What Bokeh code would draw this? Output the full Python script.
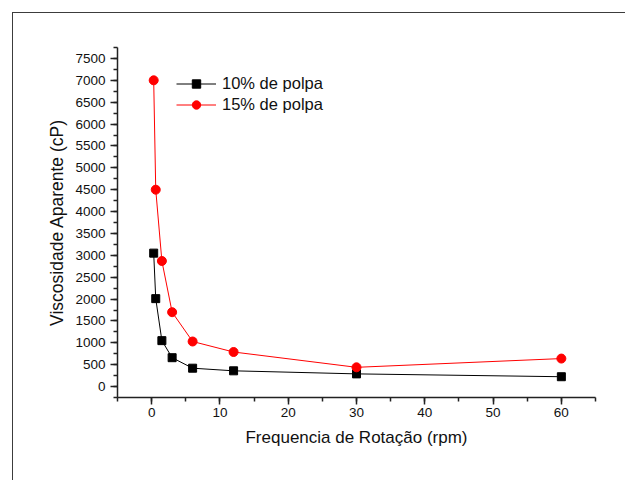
from bokeh.plotting import figure
from bokeh.models import SingleIntervalTicker, Range1d
from bokeh.embed import file_html
from bokeh.resources import INLINE

rpm = [0.3, 0.6, 1.5, 3, 6, 12, 30, 60]
visc_10 = [3050, 2010, 1050, 660, 420, 360, 290, 225]
visc_15 = [7000, 4500, 2870, 1700, 1030, 790, 440, 640]
label_10 = "10% de polpa"
label_15 = "15% de polpa"
x_label = "Frequencia de Rotação (rpm)"
y_label = "Viscosidade Aparente (cP)"

FONT = "Liberation Sans"

p = figure(width=613, height=468, output_backend="svg", toolbar_location=None,
           x_range=Range1d(-5, 65), y_range=Range1d(-250, 7750),
           min_border_left=104, min_border_right=31, min_border_top=34, min_border_bottom=84)
p.margin = (12, 0, 0, 12)
p.styles = {"border-left": "1.5px solid #3c3c3c", "border-top": "1.5px solid #3c3c3c"}
p.outline_line_color = None
p.grid.visible = False
p.background_fill_color = "white"
p.border_fill_color = "white"

p.line(rpm, visc_10, line_color="black", line_width=1, legend_label=label_10)
p.scatter(rpm, visc_10, marker="square", size=8, fill_color="black", line_color="black", legend_label=label_10)
p.line(rpm, visc_15, line_color="#ff0000", line_width=1, legend_label=label_15)
p.scatter(rpm, visc_15, marker="circle", size=9, fill_color="#ff0000", line_color="#ff0000", legend_label=label_15)

p.xaxis.ticker = SingleIntervalTicker(interval=10, num_minor_ticks=2)
p.yaxis.ticker = SingleIntervalTicker(interval=500, num_minor_ticks=2)
for ax in (p.xaxis, p.yaxis):
    ax.axis_line_color = "#222222"
    ax.axis_line_width = 1.5
    ax.major_tick_line_color = "#222222"
    ax.minor_tick_line_color = "#222222"
    ax.major_tick_line_width = 1.5
    ax.minor_tick_line_width = 1.5
    ax.major_tick_out = 7
    ax.major_tick_in = 0
    ax.minor_tick_out = 4
    ax.minor_tick_in = 0
    ax.major_label_text_font = FONT
    ax.major_label_text_font_size = "13.5px"
    ax.major_label_text_color = "#111111"
    ax.axis_label_text_font = FONT
    ax.axis_label_text_font_size = "17px"
    ax.axis_label_text_font_style = "normal"
    ax.axis_label_text_color = "#111111"
p.yaxis.axis_label_text_font_size = "17.5px"
p.xaxis.axis_label = x_label
p.yaxis.axis_label = y_label
p.xaxis.major_label_standoff = 3
p.yaxis.major_label_standoff = 5
p.xaxis.axis_label_standoff = 8
p.yaxis.axis_label_standoff = 5

lg = p.legend[0]
lg.location = (59, 282)
lg.border_line_color = None
lg.background_fill_alpha = 0
lg.padding = 0
lg.margin = 0
lg.spacing = 0
lg.glyph_width = 40
lg.glyph_height = 21
lg.label_height = 21
lg.label_standoff = 6
lg.label_text_font = FONT
lg.label_text_font_size = "16.5px"
lg.label_text_color = "#111111"

open("out.html", "w").write(file_html(p, INLINE))
